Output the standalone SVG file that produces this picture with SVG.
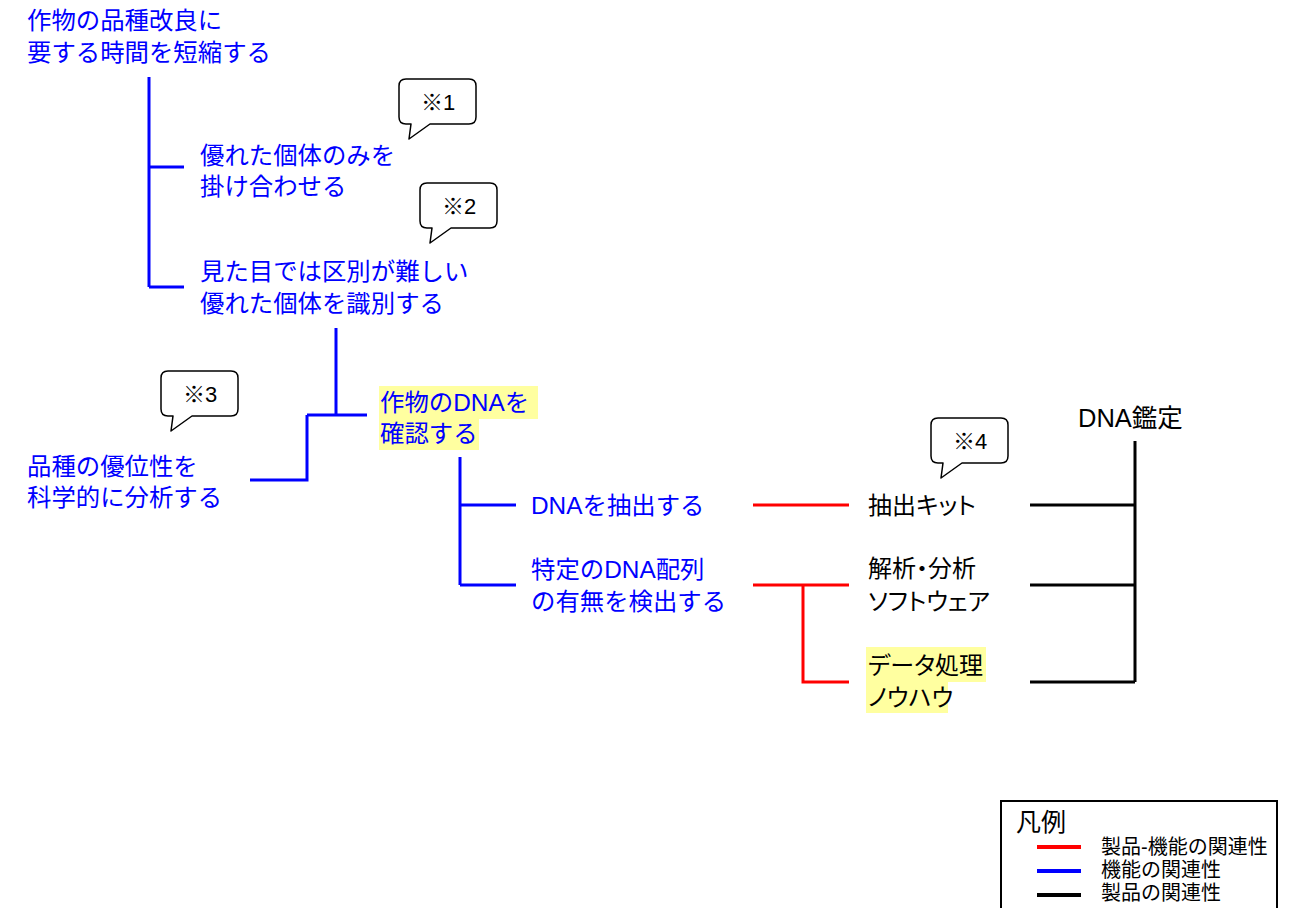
<svg xmlns="http://www.w3.org/2000/svg" width="1301" height="908" viewBox="0 0 1301 908">
<defs>
<style>
text{font-family:"Liberation Sans","Noto Sans CJK JP",sans-serif;}
.b{fill:#0000FF;font-size:24.4px;}
.k{fill:#000;font-size:24px;}
.p{font-feature-settings:"palt";}
.bn{fill:#000;font-size:22px;text-anchor:middle;}
.lg{fill:#000;font-size:20px;}
.hl{fill:#FFFFA0;}
.cb{stroke:#0000FF;stroke-width:3;fill:none;}
.cr{stroke:#FF0000;stroke-width:3;fill:none;}
.ck{stroke:#000;stroke-width:3;fill:none;}
.bubble{fill:#fff;stroke:#000;stroke-width:1.5;stroke-linejoin:round;}
</style>
<path id="bub" d="M7,0 H70 Q77,0 77,7 V38 Q77,45 70,45 H31 L10,60 L12,45 H7 Q0,45 0,38 V7 Q0,0 7,0 Z"/>
</defs>
<rect width="1301" height="908" fill="#fff"/>

<g id="connectors">
<path class="cb" d="M149,77 V287 M149,167 H184 M149,287 H184"/>
<path class="cb" d="M336,328 V415 M307,415 H367 M307,415 V480 H250"/>
<path class="cb" d="M460,457 V585 M460,505 H516 M460,585 H516"/>
<path class="cr" d="M753,505 H849"/>
<path class="cr" d="M753,585 H849 M803,585 V682 H849"/>
<path class="ck" d="M1030,505 H1135 M1030,585 H1135 M1030,682 H1135 M1135,441 V682"/>
</g>

<g id="node-goal">
<text class="b"><tspan x="27" y="29">作物の品種改良に</tspan><tspan x="27" y="61">要する時間を短縮する</tspan></text>
</g>
<g id="node-cross">
<text class="b"><tspan x="200" y="164">優れた個体のみを</tspan><tspan x="200" y="195">掛け合わせる</tspan></text>
</g>
<g id="node-identify">
<text class="b"><tspan x="200" y="280">見た目では区別が難しい</tspan><tspan x="200" y="312">優れた個体を識別する</tspan></text>
</g>
<g id="node-science">
<text class="b"><tspan x="27" y="475">品種の優位性を</tspan><tspan x="27" y="506">科学的に分析する</tspan></text>
</g>
<g id="node-dna-check">
<rect class="hl" x="379" y="386" width="159" height="33"/>
<rect class="hl" x="379" y="418" width="100" height="32"/>
<text class="b"><tspan x="380" y="411">作物のDNAを</tspan><tspan x="380" y="442">確認する</tspan></text>
</g>
<g id="node-extract">
<text class="b" x="531" y="514">DNAを抽出する</text>
</g>
<g id="node-detect">
<text class="b"><tspan x="531" y="578">特定のDNA配列</tspan><tspan x="531" y="610">の有無を検出する</tspan></text>
</g>
<g id="node-kit">
<text class="k p" x="868" y="514">抽出キット</text>
</g>
<g id="node-software">
<text class="k p"><tspan x="868" y="577">解析・分析</tspan><tspan x="868" y="610">ソフトウェア</tspan></text>
</g>
<g id="node-knowhow">
<rect class="hl" x="866" y="647" width="120" height="35"/>
<rect class="hl" x="866" y="681" width="82" height="32"/>
<text class="k p"><tspan x="868" y="674">データ処理</tspan><tspan x="868" y="706">ノウハウ</tspan></text>
</g>
<g id="node-dna-test">
<text class="k" x="1078" y="427" style="font-size:25.5px">DNA鑑定</text>
</g>

<g id="note1" transform="translate(399,79)">
<use href="#bub" class="bubble"/>
<text class="bn" x="39" y="31">※1</text>
</g>
<g id="note2" transform="translate(420,183)">
<use href="#bub" class="bubble"/>
<text class="bn" x="39" y="31">※2</text>
</g>
<g id="note3" transform="translate(161,371)">
<use href="#bub" class="bubble"/>
<text class="bn" x="39" y="31">※3</text>
</g>
<g id="note4" transform="translate(931,418)">
<use href="#bub" class="bubble"/>
<text class="bn" x="39" y="31">※4</text>
</g>

<g id="legend">
<rect x="1001" y="801" width="276" height="120" fill="#fff" stroke="#000" stroke-width="2"/>
<text x="1016" y="831" style="font-size:25px;fill:#000">凡例</text>
<line x1="1037" y1="847" x2="1081" y2="847" stroke="#FF0000" stroke-width="4"/>
<line x1="1037" y1="871" x2="1081" y2="871" stroke="#0000FF" stroke-width="4"/>
<line x1="1037" y1="895" x2="1081" y2="895" stroke="#000" stroke-width="4"/>
<text class="lg"><tspan x="1101" y="854">製品-機能の関連性</tspan><tspan x="1101" y="877">機能の関連性</tspan><tspan x="1101" y="900">製品の関連性</tspan></text>
</g>
</svg>
